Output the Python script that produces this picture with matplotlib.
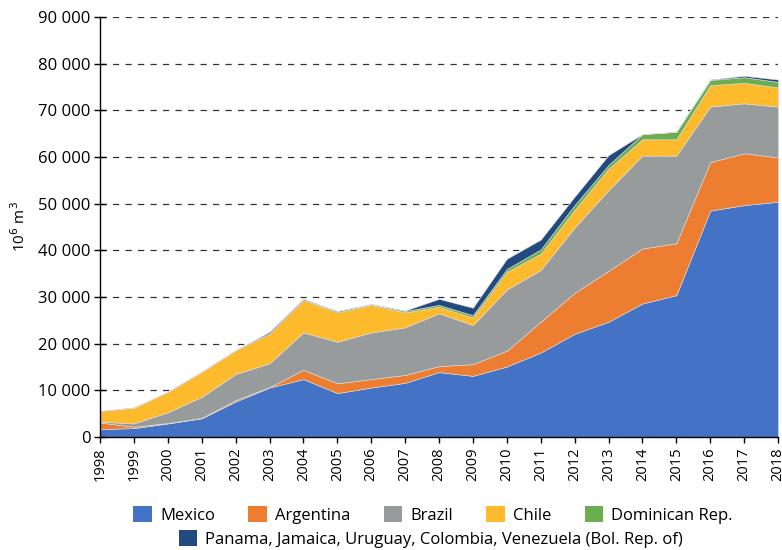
import matplotlib
matplotlib.use("Agg")
import matplotlib.pyplot as plt
from matplotlib.patches import Patch
from matplotlib.ticker import FuncFormatter

years = list(range(1998, 2019))

# valeurs en milliers de 10^6 m3
mexico =    [1.7, 1.9, 2.9, 4.0, 7.6, 10.6, 12.4, 9.4, 10.6, 11.6, 13.9, 13.1, 15.1, 18.1, 22.1, 24.7, 28.6, 30.4, 48.5, 49.7, 50.4]
argentina = [1.4, 0.3, 0.1, 0.1, 0.3, 0.1, 2.0, 2.1, 1.8, 1.7, 1.3, 2.5, 3.4, 6.6, 8.8, 10.9, 11.8, 11.1, 10.4, 11.1, 9.5]
brazil =    [0.2, 0.7, 2.3, 4.5, 5.6, 5.1, 8.0, 8.9, 10.0, 10.2, 11.3, 8.4, 13.1, 11.1, 14.0, 17.3, 19.9, 18.8, 11.9, 10.7, 10.9]
chile =     [2.3, 3.4, 4.4, 5.4, 5.1, 6.4, 7.0, 6.3, 5.9, 3.2, 1.4, 1.6, 3.8, 3.5, 3.8, 4.6, 3.5, 3.5, 4.6, 4.4, 4.1]
dominican = [0, 0, 0, 0, 0, 0, 0, 0.3, 0.2, 0.3, 0.4, 0.5, 0.6, 0.9, 1.0, 0.8, 1.1, 1.6, 1.1, 1.2, 1.2]
others =    [0, 0, 0, 0, 0, 0.3, 0.2, 0, 0, 0.1, 1.3, 1.6, 2.2, 2.1, 1.8, 2.1, 0, 0, 0.1, 0.3, 0.5]

labels = ["Mexico", "Argentina", "Brazil", "Chile", "Dominican Rep.",
          "Panama, Jamaica, Uruguay, Colombia, Venezuela (Bol. Rep. of)"]
couleurs = ["#4472C4", "#ED7D31", "#989B9B", "#FDBA2C", "#6AAE4F", "#234A7E"]

series = [mexico, argentina, brazil, chile, dominican, others]
series = [[v * 1000 for v in s] for s in series]

plt.rcParams['font.family'] = ['Open Sans', 'DejaVu Sans']

fig = plt.figure(figsize=(7.82, 5.5), dpi=100)
ax = fig.add_axes([100/782, 1 - 437/550, 678/782, 420/550])

ax.stackplot(years, *series, colors=couleurs, edgecolor="#dddddd", linewidth=0.4)

ax.set_xlim(1998, 2018)
ax.set_ylim(0, 90000)
ax.set_yticks(range(0, 90001, 10000))
ax.set_xticks(years)
ax.set_xticklabels([str(y) for y in years], rotation=90, fontsize=10.5)
ax.yaxis.set_major_formatter(FuncFormatter(lambda v, p: f"{int(v):,}".replace(",", " ")))
ax.tick_params(axis='y', labelsize=12, direction='inout', length=8, width=1, pad=3)
ax.tick_params(axis='x', direction='out', length=4, width=1)

for v in range(10000, 90001, 10000):
    ax.axhline(v, color="#333333", linestyle=(0, (5, 5)), linewidth=0.9, zorder=0)

for s in ["top", "right"]:
    ax.spines[s].set_visible(False)
ax.spines["left"].set_linewidth(1)
ax.spines["bottom"].set_linewidth(1)

ax.set_ylabel("10$^6$ m$^3$", fontsize=11, labelpad=6)

handles = [Patch(facecolor=c) for c in couleurs]
leg1 = fig.legend(handles[:5], labels[:5], loc="center", bbox_to_anchor=(0.554, 1 - 515/550),
                  ncol=5, frameon=False, fontsize=12, handlelength=1.1, handleheight=1.1,
                  columnspacing=2.0, handletextpad=0.5)
leg2 = fig.legend(handles[5:], labels[5:], loc="center", bbox_to_anchor=(0.551, 1 - 539/550),
                  ncol=1, frameon=False, fontsize=12, handlelength=1.1, handleheight=1.1,
                  handletextpad=0.5)

fig.savefig("out.png", dpi=100)
